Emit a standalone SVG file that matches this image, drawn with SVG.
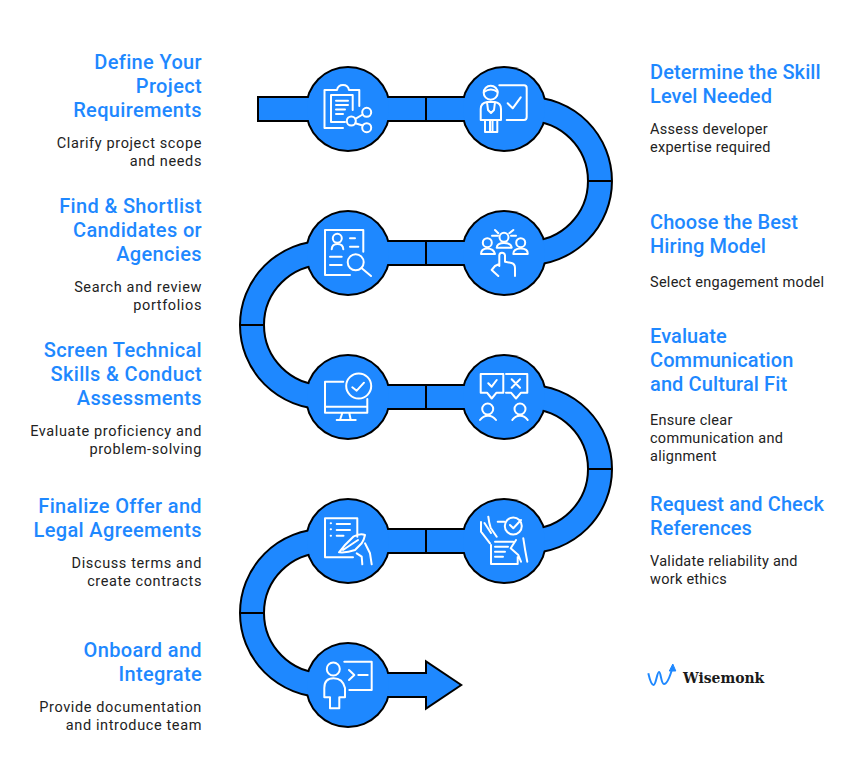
<svg xmlns="http://www.w3.org/2000/svg" width="864" height="781" viewBox="0 0 864 781">
<style>
.h{font:500 20px Roboto,"Liberation Sans",sans-serif;fill:#1e88ff;letter-spacing:.1px}
.b{font:400 14.5px Roboto,"Liberation Sans",sans-serif;fill:#222;letter-spacing:.27px}
.h.l{text-anchor:end;letter-spacing:.35px}
.b.l{text-anchor:end;letter-spacing:.62px}
.i{fill:none;stroke:#fff;stroke-width:2;stroke-linecap:round;stroke-linejoin:round}
.c{fill:#1e88ff}
.d{stroke:#000;stroke-width:2;fill:none}
</style>
<rect width="864" height="781" fill="#fff"/>
<g id="outline">
<path d="M257 109H528A72 72 0 0 1 528 253H324A72 72 0 0 0 324 397H528A72 72 0 0 1 528 541H324A72 72 0 0 0 324 685H428" fill="none" stroke="#000" stroke-width="26"/>
<polygon points="425,659.5 463,685 425,710.5"/>
<circle cx="348" cy="109" r="43"/><circle cx="504" cy="109" r="43"/>
<circle cx="348" cy="253" r="43"/><circle cx="504" cy="253" r="43"/>
<circle cx="348" cy="397" r="43"/><circle cx="504" cy="397" r="43"/>
<circle cx="348" cy="541" r="43"/><circle cx="504" cy="541" r="43"/>
<circle cx="348" cy="685" r="43"/>
</g>
<g id="connectors">
<path d="M259 109H528A72 72 0 0 1 528 253H324A72 72 0 0 0 324 397H528A72 72 0 0 1 528 541H324A72 72 0 0 0 324 685H430" fill="none" stroke="#1e88ff" stroke-width="22"/>
<polygon class="c" points="427,663.3 459.6,685 427,706.7"/>
<path class="d" d="M426 97V121M588 181H612M426 241V265M240 325H264M426 385V409M588 469H612M426 529V553M240 613H264"/>
</g>
<g id="n1"><circle class="c" cx="348" cy="109" r="41"/>
<path class="i" d="M343 128H324.5V90H337Q338 85 343 85T349 90H359.3V106M352.7 110V95H331V122H345M336 100.7H348M336 105H348M336 109.500H345M336 114H343"/>
<circle class="i" cx="351.300" cy="121" r="4.500"/><circle class="i" cx="366.700" cy="112.300" r="4.500"/><circle class="i" cx="366.700" cy="127.700" r="4.500"/><path class="i" d="M355.300 118.800L362.700 114.500M355.300 123.200L362.700 125.500"/></g>
<g id="n2"><circle class="c" cx="504" cy="109" r="41"/>
<circle class="i" cx="490.700" cy="92.700" r="7"/><path class="i" d="M484 92Q491 87 497.500 92M499.300 85.300H524Q526.700 85.300 526.700 88V117Q526.700 120 524 120H506.700M507.700 103.300L512.700 108.300L520.700 97.300M480.700 120V109Q480.700 103 487 102H495Q501 103 501 109V120H480.700M485 120V132H497.300V120M490 120V132M492.500 120V132M487 102L488 110L491 113L494 110L495 102"/></g>
<g id="n3"><circle class="c" cx="504" cy="253" r="41"/>
<circle class="i" cx="504" cy="237.300" r="4.500"/><circle class="i" cx="487.300" cy="242.700" r="4.500"/><circle class="i" cx="520.700" cy="242.700" r="4.500"/><path class="i" d="M496.700 247.700Q497 243 504 243T511.700 247.700ZM481 254Q481 248.500 487.300 248.500T495 254ZM513.300 254Q513.300 248.500 520.700 248.500T527.700 254ZM492 235.700H498M495 230L498.300 233.300M513.300 230L509.300 233.300M511 235.700H516M499.300 266V255.500Q499.300 252.700 502 252.700T505 255.500V261.700L511.500 263Q515 264 515 268V276M498.300 276L491.700 270L495 266L499.300 264"/></g>
<g id="n4"><circle class="c" cx="348" cy="253" r="41"/>
<circle class="i" cx="337.300" cy="238.300" r="4.500"/><circle class="i" cx="355.700" cy="262.300" r="8"/><path class="i" d="M350 275H325V230H363.300V251.700M331.700 249.300Q332 244 337.500 244T343.300 249.300M350 238.300H355M350 246.700H358.300M330 256.700H341.700M330 265H341.700M361.500 268L371 276"/></g>
<g id="n5"><circle class="c" cx="348" cy="397" r="41"/>
<circle class="i" cx="358.700" cy="386" r="12.500"/><path class="i" d="M343.300 381.700H325V412.700H367.300V399M325 406.700H367.300M342.300 413L340 420M349.300 413L350.700 420M336.700 420H355.700M352.300 387.300L356.700 390.700L364 382.700"/></g>
<g id="n6"><circle class="c" cx="504" cy="397" r="41"/>
<circle class="i" cx="487.700" cy="409" r="5.500"/><circle class="i" cx="520" cy="409" r="5.500"/><path class="i" d="M503.300 374V392.700H496.500L491.700 398.500L487 392.700H480.700V374ZM506 374H527.300V392.700H521L516 398.500L511 392.700H506M488.300 383.300L491.700 386.700L496.700 380M511.700 379.300L520 387.700M520 379.300L511.700 387.700M480 420Q483 415.700 488 415.700T496 420M512.300 420Q515 415.700 520 415.700T527.700 420"/></g>
<g id="n7"><circle class="c" cx="504" cy="541" r="41"/>
<circle class="i" cx="513.300" cy="526" r="8.500"/><path class="i" d="M510 525L513.300 528.300L521 520M497.700 521.700H504.300M481 522V531.700L490 543.300M488.300 516.700Q489 523 490.700 528L496.700 536.700M484.500 523L491 533M495 541.700H513.300M491 545V564H517.700V557M495 546.700H508M495 551.700H505M495 556.700H503M523.300 538.300Q525 550 527.300 561.700M516 540L510.700 548.300L518.300 555L521 561.700"/></g>
<g id="n8"><circle class="c" cx="348" cy="541" r="41"/>
<path class="i" d="M353 557.300H325V518.300H357.300V536.700M336.700 524H350M336.700 530H350M336.700 535.700H343.500M330.700 523.300H331M330.700 529.300H331M330.700 535.700H331M339 552.300L345 545L353.300 536.700Q360 533 365 535Q364 540 361.700 543.300L355 550Q347 553 339 552.300ZM343 550L358 540M356.700 553.300L361.700 556.700L362.300 564.300M365 543.300L370 553.300L371.700 564.300"/></g>
<g id="n9"><circle class="c" cx="348" cy="685" r="41"/>
<circle class="i" cx="333.300" cy="669" r="6.500"/><path class="i" d="M344.300 661.700H371.700V690H349.300M349 670L354.300 675L349 680M358.300 675H367.700M330 697.300H324.300V688Q324.300 678.300 333.500 678.300T345 688V697.300H339.300V708.300H330V697.300"/></g>
<g id="labels">
<text class="h l" x="202" y="69">Define Your</text><text class="h l" x="202" y="93">Project</text><text class="h l" x="202" y="117">Requirements</text>
<text class="b l" x="202" y="148">Clarify project scope</text><text class="b l" x="202" y="166">and needs</text>
<text class="h l" x="202" y="213">Find &amp; Shortlist</text><text class="h l" x="202" y="237">Candidates or</text><text class="h l" x="202" y="261">Agencies</text>
<text class="b l" x="202" y="292">Search and review</text><text class="b l" x="202" y="310">portfolios</text>
<text class="h l" x="202" y="357">Screen Technical</text><text class="h l" x="202" y="381">Skills &amp; Conduct</text><text class="h l" x="202" y="405">Assessments</text>
<text class="b l" x="202" y="436">Evaluate proficiency and</text><text class="b l" x="202" y="454">problem-solving</text>
<text class="h l" x="202" y="513">Finalize Offer and</text><text class="h l" x="202" y="537">Legal Agreements</text>
<text class="b l" x="202" y="568">Discuss terms and</text><text class="b l" x="202" y="586">create contracts</text>
<text class="h l" x="202" y="657">Onboard and</text><text class="h l" x="202" y="681">Integrate</text>
<text class="b l" x="202" y="712">Provide documentation</text><text class="b l" x="202" y="730">and introduce team</text>
<text class="h" x="650" y="79">Determine the Skill</text><text class="h" x="650" y="103">Level Needed</text>
<text class="b" x="650" y="134">Assess developer</text><text class="b" x="650" y="152">expertise required</text>
<text class="h" x="650" y="229">Choose the Best</text><text class="h" x="650" y="253">Hiring Model</text>
<text class="b" x="650" y="287">Select engagement model</text>
<text class="h" x="650" y="343">Evaluate</text><text class="h" x="650" y="367">Communication</text><text class="h" x="650" y="391">and Cultural Fit</text>
<text class="b" x="650" y="425">Ensure clear</text><text class="b" x="650" y="443">communication and</text><text class="b" x="650" y="461">alignment</text>
<text class="h" x="650" y="511">Request and Check</text><text class="h" x="650" y="535">References</text>
<text class="b" x="650" y="566">Validate reliability and</text><text class="b" x="650" y="584">work ethics</text>
</g>
<g id="logo">
<path d="M648.300 673.300Q651 685 653.500 685C656 685 657 672 659 672S661 684 664 684Q668 684 672.700 667" fill="none" stroke="#1e88ff" stroke-width="2"/>
<path d="M672.800 664L669.300 671H675.800Z" fill="#1e88ff" stroke="#1e88ff"/>
<text x="683" y="683" style="font:700 15.500px 'DejaVu Serif',serif;font-stretch:condensed;fill:#1a1a1a">Wisemonk</text>
</g>
</svg>
